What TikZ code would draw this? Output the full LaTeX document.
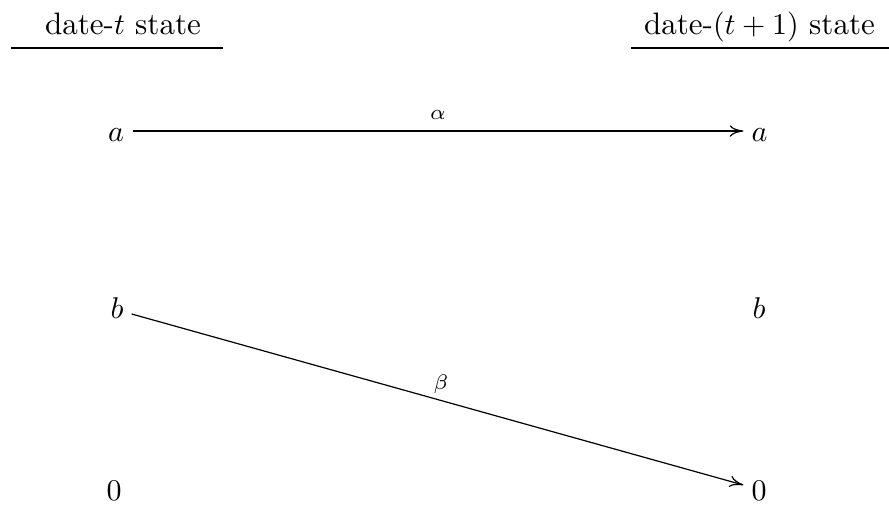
\documentclass[tikz,border=0pt]{standalone}
\usetikzlibrary{calc,arrows.meta}
\begin{document}
\fontsize{10.35}{12.4}\selectfont
\begin{tikzpicture}[x=0.33333pt,y=-0.33333pt,
  st/.style={anchor=base,inner sep=0pt},
  arr/.style={-{To[length=4.6pt,width=3.8pt]},line width=0.4pt},
  rule/.style={line width=0.65pt},
  lab/.style={inner sep=0pt}]
\useasboundingbox (0,0) rectangle (889,505);
% headings
\node[st] (h1) at (123,35) {date-$t$ state};
\node[st] (h2) at (759.5,35) {date-$(t+1)$ state};
\draw[rule] (11,48) -- (223,48);
\draw[rule] (631,48) -- (889,48);
% states
\node[st] (a1) at (116,142) {$a$};
\node[st] (a2) at (759.5,142) {$a$};
\node[st] (b1) at (117,318) {$b$};
\node[st] (b2) at (759,318) {$b$};
\node[st] (z1) at (114,500) {$0$};
\node[st] (z2) at (759,500) {$0$};
% connectors
\draw[arr] ($(a1.east)+(8,-4.5)$) -- node[lab,above=3.5pt] {$\scriptstyle\alpha$} ($(a2.west)+(-7.5,-4.5)$);
\draw[arr] ($(b1.east)+(7.6,6.4)$) -- ($(z2.west)+(-7.5,-5.3)$);
\node[lab] (beta) at (441,384) {$\scriptstyle\beta$};
\end{tikzpicture}
\end{document}
